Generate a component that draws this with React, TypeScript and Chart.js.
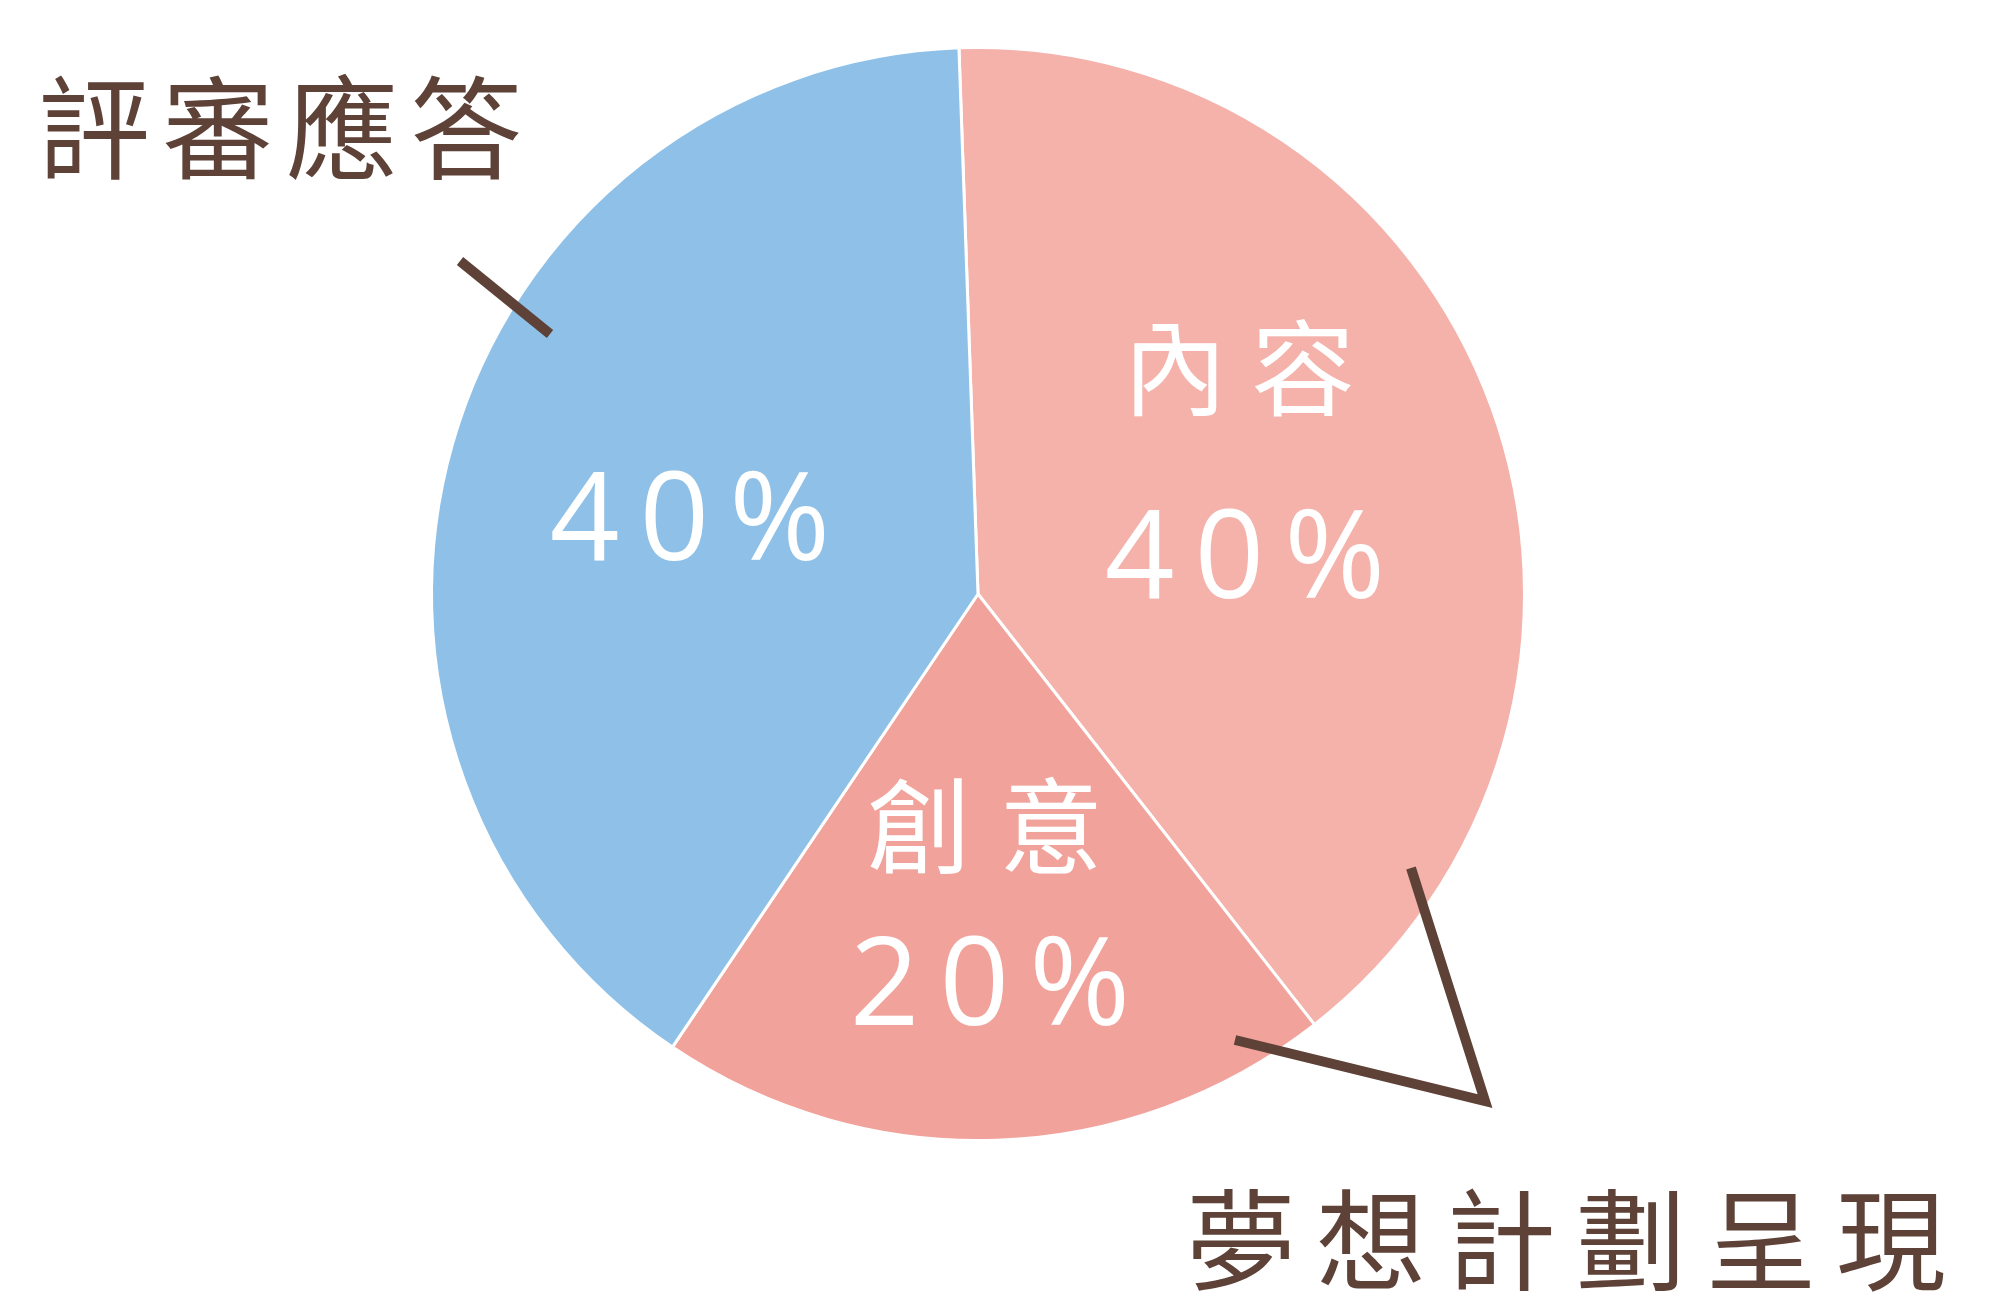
import React, { useEffect, useRef } from "react";
import { Chart, registerables } from "chart.js";

Chart.register(...registerables);

const categories = ["內容", "創意", "評審應答"];
const values = [40, 20, 40];
const percentLabels = ["40%", "20%", "40%"];
const colors = ["#f4b2ab", "#f1a29b", "#8fc1e8"];
const outerTitles = ["評審應答", "夢想計劃呈現"];

const BROWN = "#5e4238";

const labelPlugin = {
  id: "handLabels",
  afterDraw(chart: any) {
    const ctx: CanvasRenderingContext2D = chart.ctx;
    const drawText = (
      text: string,
      x: number,
      y: number,
      font: string,
      color: string,
      spacing: number
    ) => {
      ctx.save();
      ctx.font = font;
      (ctx as any).letterSpacing = spacing + "px";
      ctx.fillStyle = color;
      ctx.textAlign = "left";
      ctx.textBaseline = "middle";
      const w = ctx.measureText(text).width - spacing;
      ctx.fillText(text, x - w / 2, y);
      ctx.restore();
    };
    const line = (pts: number[][]) => {
      ctx.save();
      ctx.strokeStyle = BROWN;
      ctx.lineWidth = 10;
      ctx.lineJoin = "miter";
      ctx.lineCap = "butt";
      ctx.beginPath();
      ctx.moveTo(pts[0][0], pts[0][1]);
      for (let i = 1; i < pts.length; i++) ctx.lineTo(pts[i][0], pts[i][1]);
      ctx.stroke();
      ctx.restore();
    };
    const cjk = (s: number) => `400 ${s}px "Noto Sans CJK TC", sans-serif`;
    const lat = (s: number) => `400 ${s}px "Open Sans", "Noto Sans", sans-serif`;

    // inside labels
    drawText(categories[0], 1239, 368, cjk(104), "#ffffff", 24);
    drawText(percentLabels[0], 1245, 563, lat(122), "#ffffff", 20);
    drawText(categories[1], 985, 826, cjk(104), "#ffffff", 28);
    drawText(percentLabels[1], 990, 990, lat(122), "#ffffff", 20);
    drawText(percentLabels[2], 690, 525, lat(122), "#ffffff", 20);

    // outer titles
    drawText(outerTitles[0], 280, 128, cjk(112), BROWN, 12);
    drawText(outerTitles[1], 1566, 1240, cjk(110), BROWN, 20);

    // connector lines
    line([
      [460, 261],
      [550, 334],
    ]);
    line([
      [1235, 1040],
      [1485, 1101],
      [1411, 868],
    ]);
  },
};

export default function App() {
  const ref = useRef<HTMLCanvasElement | null>(null);
  useEffect(() => {
    if (!ref.current) return;
    const chart = new Chart(ref.current, {
      type: "pie",
      data: {
        labels: categories,
        datasets: [
          {
            data: values,
            backgroundColor: colors,
            borderColor: "#ffffff",
            borderWidth: 3,
          },
        ],
      },
      options: {
        responsive: false,
        animation: false,
        rotation: -2,
        layout: {
          padding: { left: 430, right: 467, top: 46, bottom: 161 },
        },
        plugins: {
          legend: { display: false },
          tooltip: { enabled: false },
          title: { display: false },
        },
      },
      plugins: [labelPlugin],
    });
    return () => chart.destroy();
  }, []);
  return (
    <canvas
      ref={ref}
      width={1993}
      height={1303}
      style={{ position: "absolute", left: 0, top: 0, width: 1993, height: 1303, background: "#ffffff" }}
    />
  );
}
